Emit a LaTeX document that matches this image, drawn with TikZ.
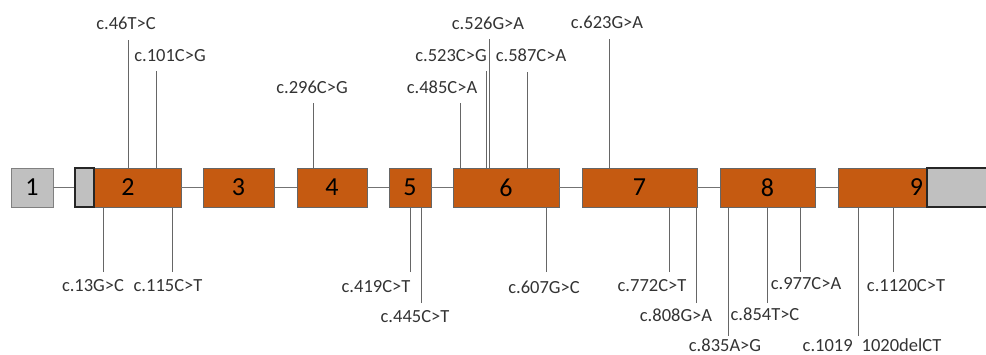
\documentclass[tikz,border=0pt]{standalone}
\usepackage{fontspec}
\setmainfont{Carlito}
\definecolor{exonorange}{HTML}{C55A11}
\definecolor{utrgray}{HTML}{C0C0C0}
\tikzstyle{exon} = [rectangle, draw = black!60, fill = exonorange, line width = 0.8pt, inner sep = 0pt, minimum height = 39pt, font = \fontsize{26}{26}\selectfont]
\tikzstyle{utr} = [exon, draw = black!50, fill = utrgray]
\tikzstyle{utrend} = [utr, draw = black!85, line width = 1.6pt]
\tikzstyle{intron} = [draw = black!55, line width = 1pt]
\tikzstyle{tick} = [draw = black!60, line width = 0.9pt]
\tikzstyle{mut} = [anchor = base, inner sep = 0pt, text = black!80, font = \fontsize{18.5}{18.5}\selectfont]

\begin{document}
\begin{tikzpicture}[x = 1pt, y = -1pt]
        \useasboundingbox (0, 0) rectangle (986, 354);
        \clip (0, 0) rectangle (986, 354);

        % exons
        \node (E1) at (32, 187.5) [utr, minimum width = 42pt] {1};
        \node (E2) at (128, 187.5) [exon, minimum width = 106pt] {2};
        \node (U2) at (84.5, 187.5) [utrend, minimum width = 19pt] {};
        \node (E3) at (238.5, 187.5) [exon, minimum width = 71pt] {3};
        \node (E4) at (332, 187.5) [exon, minimum width = 70pt] {4};
        \node (E5) at (410, 187.5) [exon, minimum width = 42pt] {5};
        \node (E6) at (506, 187.5) [exon, minimum width = 106pt] {6};
        \node (E7) at (639.5, 187.5) [exon, minimum width = 115pt] {7};
        \node (E8) at (767.5, 187.5) [exon, minimum width = 95pt] {8};
        \node (E9) at (882.5, 187.5) [exon, minimum width = 89pt, text width = 81pt, align = right] {9};
        \node (U9) at (963.5, 187.5) [utrend, minimum width = 73pt] {};

        % introns
        \draw [intron] (E1) -- (U2);
        \draw [intron] (E2) -- (E3);
        \draw [intron] (E3) -- (E4);
        \draw [intron] (E4) -- (E5);
        \draw [intron] (E5) -- (E6);
        \draw [intron] (E6) -- (E7);
        \draw [intron] (E7) -- (E8);
        \draw [intron] (E8) -- (E9);

        % variants above
        \node (m46) at (126, 29) [mut] {c.46T>C};
        \coordinate (t46) at (128, 40);
        \draw [tick] (t46) -- (t46 |- E2.north);
        \node (m101) at (170, 61) [mut] {c.101C>G};
        \coordinate (t101) at (156, 71);
        \draw [tick] (t101) -- (t101 |- E2.north);
        \node (m296) at (312, 93) [mut] {c.296C>G};
        \coordinate (t296) at (313, 103);
        \draw [tick] (t296) -- (t296 |- E4.north);
        \node (m485) at (442, 93) [mut] {c.485C>A};
        \coordinate (t485) at (460, 103);
        \draw [tick] (t485) -- (t485 |- E6.north);
        \node (m523) at (451, 61) [mut] {c.523C>G};
        \coordinate (t523) at (486, 71);
        \draw [tick] (t523) -- (t523 |- E6.north);
        \node (m526) at (488, 29) [mut] {c.526G>A};
        \coordinate (t526) at (489, 39);
        \draw [tick] (t526) -- (t526 |- E6.north);
        \node (m587) at (531, 61) [mut] {c.587C>A};
        \coordinate (t587) at (527, 72);
        \draw [tick] (t587) -- (t587 |- E6.north);
        \node (m623) at (607, 28) [mut] {c.623G>A};
        \coordinate (t623) at (609, 39);
        \draw [tick] (t623) -- (t623 |- E7.north);

        % variants below
        \node (m13) at (93, 291) [mut] {c.13G>C};
        \coordinate (t13) at (103, 272);
        \draw [tick] (t13) -- (t13 |- E2.south);
        \node (m115) at (168, 291) [mut] {c.115C>T};
        \coordinate (t115) at (172, 272);
        \draw [tick] (t115) -- (t115 |- E2.south);
        \node (m419) at (376, 292) [mut] {c.419C>T};
        \coordinate (t419) at (410, 272);
        \draw [tick] (t419) -- (t419 |- E5.south);
        \node (m445) at (415, 322) [mut] {c.445C>T};
        \coordinate (t445) at (421, 303);
        \draw [tick] (t445) -- (t445 |- E5.south);
        \node (m607) at (544, 293) [mut] {c.607G>C};
        \coordinate (t607) at (546, 272);
        \draw [tick] (t607) -- (t607 |- E6.south);
        \node (m772) at (652, 291) [mut] {c.772C>T};
        \coordinate (t772) at (669, 272);
        \draw [tick] (t772) -- (t772 |- E7.south);
        \node (m808) at (676, 321) [mut] {c.808G>A};
        \coordinate (t808) at (696, 303);
        \draw [tick] (t808) -- (t808 |- E7.south);
        \node (m835) at (725, 351) [mut] {c.835A>G};
        \coordinate (t835) at (728, 336);
        \draw [tick] (t835) -- (t835 |- E8.south);
        \node (m854) at (765, 320) [mut] {c.854T>C};
        \coordinate (t854) at (767, 303);
        \draw [tick] (t854) -- (t854 |- E8.south);
        \node (m977) at (806, 289) [mut] {c.977C>A};
        \coordinate (t977) at (800, 272);
        \draw [tick] (t977) -- (t977 |- E8.south);
        \node (m1019) at (872, 351) [mut] {c.1019\hspace{9pt}1020delCT};
        \coordinate (t1019) at (858, 336);
        \draw [tick] (t1019) -- (t1019 |- E9.south);
        \node (m1120) at (906, 291) [mut] {c.1120C>T};
        \coordinate (t1120) at (893, 272);
        \draw [tick] (t1120) -- (t1120 |- E9.south);
    \end{tikzpicture}
\end{document}
